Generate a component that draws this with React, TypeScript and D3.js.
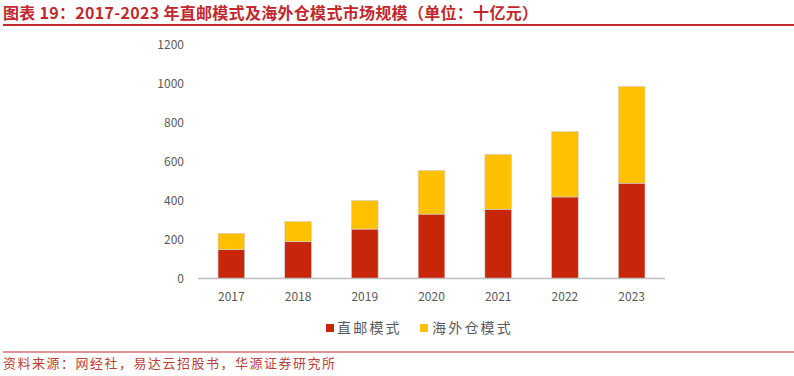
import React from "react";
import * as d3 from "d3";

const years = ["2017", "2018", "2019", "2020", "2021", "2022", "2023"];
const directMail = [148, 189, 254, 331, 356, 419, 490];
const overseasWarehouse = [84, 104, 147, 224, 282, 336, 497];
const yTicks = [0, 200, 400, 600, 800, 1000, 1200];
const seriesNames = ["直邮模式", "海外仓模式"];
const seriesColors = ["#C8260A", "#FFC000"];

const W = 794;
const H = 376;

export default function App() {
  const x = d3.scaleBand<string>().domain(years).range([198, 665]).paddingInner(0.6).paddingOuter(0.3);
  const y = d3.scaleLinear().domain([0, 1200]).range([278.5, 45]);

  const rows = years.map((yr, i) => ({ year: yr, a: directMail[i], b: overseasWarehouse[i] }));
  const stacked = d3.stack<any>().keys(["a", "b"])(rows);

  const font = "'Noto Sans CJK SC', 'Noto Sans', sans-serif";

  return (
    <svg width={W} height={H} style={{ position: "absolute", left: 0, top: 0, background: "#fff" }}>
      <text x={3} y={19} fontFamily={font} fontWeight={700} fontSize={16} letterSpacing={0.3} fill="#C0282E">
        图表 19：2017-2023 年直邮模式及海外仓模式市场规模（单位：十亿元）
      </text>
      <line x1={3} x2={794} y1={25} y2={25} stroke="#C0282E" strokeWidth={1.8} />

      {yTicks.map((t) => (
        <text key={t} x={184} y={y(t)} dy="0.35em" textAnchor="end" fontFamily={font} fontSize={12} fill="#595959">
          {t}
        </text>
      ))}

      {stacked.map((s, si) => (
        <g key={si} fill={seriesColors[si]}>
          {s.map((d, i) => (
            <rect
              key={i}
              x={x(years[i])}
              width={x.bandwidth()}
              y={y(d[1])}
              height={y(d[0]) - y(d[1])}
              stroke="#d0d0d0"
              strokeWidth={0.6}
            />
          ))}
        </g>
      ))}

      <line x1={198} x2={665} y1={278.5} y2={278.5} stroke="#BFBFBF" strokeWidth={1.5} />

      {years.map((yr) => (
        <text key={yr} x={(x(yr) as number) + x.bandwidth() / 2} y={301} textAnchor="middle" fontFamily={font} fontSize={12} fill="#595959">
          {yr}
        </text>
      ))}

      <g>
        <rect x={326} y={324} width={8} height={8} fill={seriesColors[0]} />
        <text x={337} y={332.5} fontFamily={font} fontSize={14} letterSpacing={2.2} fill="#595959">
          {seriesNames[0]}
        </text>
        <rect x={420} y={324} width={8} height={8} fill={seriesColors[1]} />
        <text x={432} y={332.5} fontFamily={font} fontSize={14} letterSpacing={2.2} fill="#595959">
          {seriesNames[1]}
        </text>
      </g>

      <line x1={3} x2={794} y1={352} y2={352} stroke="#C0282E" strokeWidth={1.2} />
      <text x={3} y={368} fontFamily={font} fontSize={13} letterSpacing={1.5} fill="#B8423A">
        资料来源：网经社，易达云招股书，华源证券研究所
      </text>
    </svg>
  );
}
